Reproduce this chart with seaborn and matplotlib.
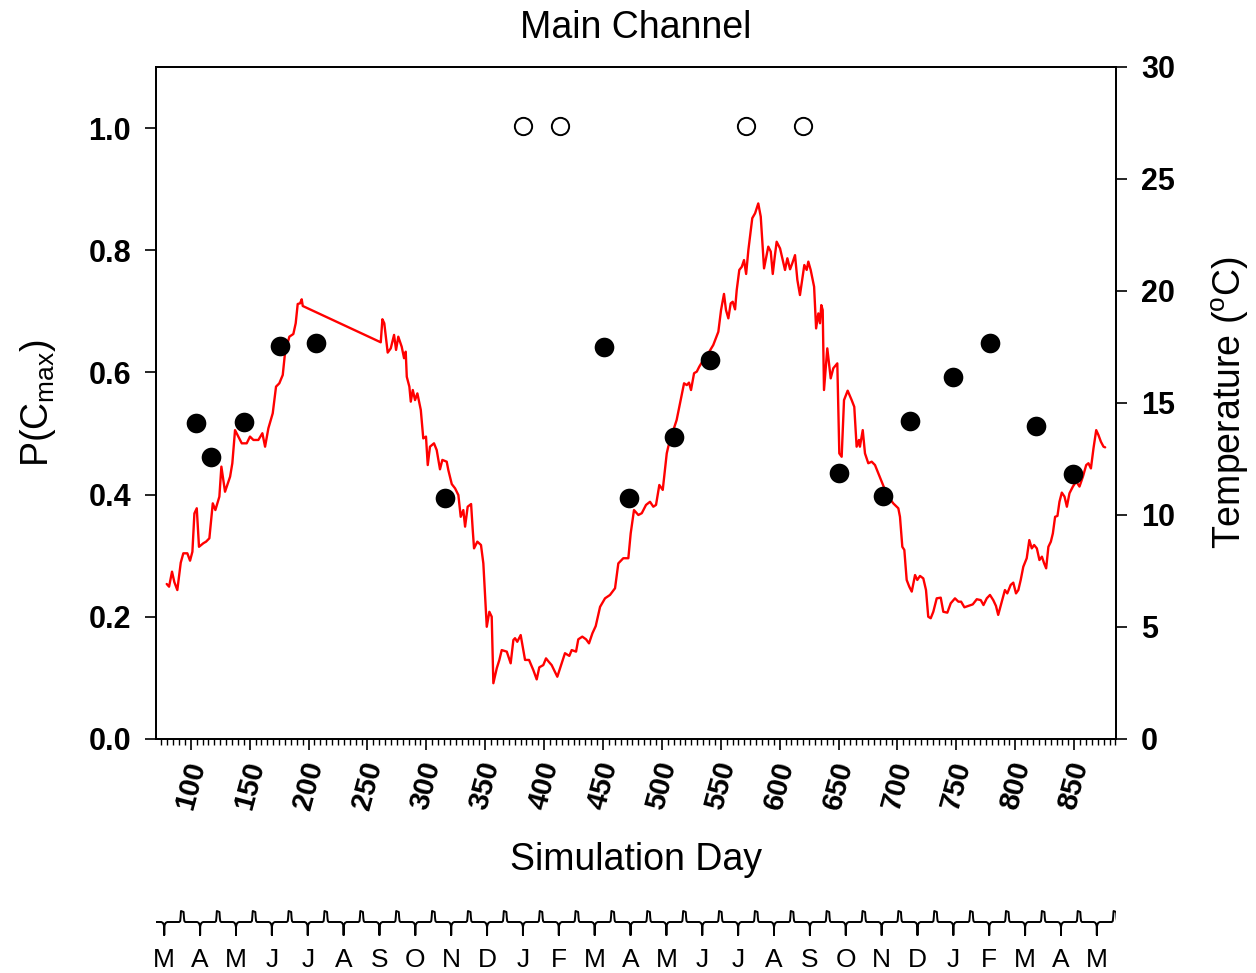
import numpy as np
import seaborn as sns
import matplotlib.pyplot as plt
from matplotlib.ticker import MultipleLocator

# --- data ---
pcmax_day = [104.2, 117.2, 145.2, 176.0, 206.1, 316.1, 451.1, 472.3, 510.0,
             541.1, 650.1, 687.4, 710.9, 747.4, 778.5, 817.8, 849.0]
pcmax = [0.518, 0.461, 0.519, 0.644, 0.648, 0.394, 0.641, 0.395, 0.494,
         0.621, 0.436, 0.397, 0.521, 0.593, 0.649, 0.513, 0.433]

open_day = [382.3, 413.5, 571.1, 620.0]
open_p = [1.003, 1.003, 1.003, 1.003]

temp_day = [
    79.6, 81.6, 84.1, 86.1, 88.6, 91.5, 93.7, 97.1, 99.4, 101.4,
    103.1, 105.1, 107.0, 110.7, 113.0, 115.8, 118.7, 120.9, 124.3, 126.0,
    129.1, 133.4, 135.3, 137.6, 140.4, 143.3, 147.5, 150.3, 153.2, 157.4,
    160.8, 163.1, 165.9, 169.6, 172.4, 175.2, 178.1, 180.0, 183.7, 187.1,
    189.1, 190.8, 192.8, 194.2, 195.1, 261.3, 262.7, 264.3, 267.2, 269.8,
    272.6, 274.3, 276.2, 279.1, 281.1, 282.5, 283.4, 285.6, 286.8, 288.5,
    290.4, 292.4, 295.3, 297.4, 299.7, 301.2, 303.1, 306.5, 308.8, 311.6,
    313.6, 317.3, 318.7, 321.6, 324.4, 327.2, 329.2, 331.4, 332.9, 335.1,
    338.0, 339.4, 340.5, 343.3, 346.4, 348.4, 351.3, 353.5, 355.5, 356.9,
    359.8, 362.0, 364.0, 368.3, 371.6, 373.9, 375.3, 377.2, 380.1, 383.8,
    387.2, 390.8, 393.7, 395.9, 399.3, 401.6, 403.9, 406.4, 411.2, 414.9,
    417.7, 421.4, 423.4, 427.1, 429.0, 432.4, 435.6, 438.1, 441.0, 443.8,
    447.5, 451.7, 455.9, 460.2, 463.0, 467.2, 471.5, 473.5, 476.3, 480.0,
    482.9, 486.5, 489.9, 492.7, 495.0, 497.8, 500.7, 504.1, 505.4, 509.7,
    512.5, 515.4, 518.8, 521.1, 523.0, 524.7, 527.3, 529.6, 531.7, 535.1,
    539.4, 543.6, 547.9, 550.2, 552.7, 554.4, 556.4, 558.4, 560.1, 562.1,
    563.5, 565.7, 567.8, 569.7, 571.5, 573.4, 576.7, 579.1, 581.8, 583.9,
    586.7, 588.4, 590.3, 592.4, 594.1, 595.8, 597.4, 600.3, 602.6, 604.5,
    606.5, 608.8, 610.7, 613.0, 615.0, 617.2, 619.5, 620.9, 622.9, 624.3,
    626.3, 629.2, 630.9, 632.8, 634.2, 635.3, 636.5, 637.6, 640.4, 643.3,
    645.5, 648.9, 650.6, 652.6, 654.6, 657.7, 661.1, 663.3, 665.3, 667.3,
    668.1, 670.5, 672.4, 675.2, 678.1, 680.9, 683.7, 686.6, 689.4, 692.2,
    696.4, 700.7, 702.1, 704.1, 705.8, 707.8, 710.0, 712.1, 714.9, 716.8,
    719.1, 721.9, 724.2, 726.1, 728.2, 730.4, 733.3, 736.7, 738.9, 742.3,
    745.2, 748.8, 751.7, 754.0, 756.8, 760.2, 763.9, 767.3, 770.7, 773.0,
    775.8, 778.5, 781.3, 783.6, 785.5, 788.5, 791.2, 793.2, 796.1, 798.3,
    800.6, 802.6, 804.6, 806.8, 809.7, 811.9, 814.0, 816.0, 818.3, 820.5,
    822.6, 824.5, 826.2, 828.1, 830.2, 831.9, 833.8, 835.8, 837.5, 839.5,
    841.8, 843.8, 846.0, 848.9, 851.7, 854.5, 857.4, 860.2, 862.1, 864.2,
    866.4, 868.7, 870.6, 872.7, 874.9, 876.3]
temp_c = [
    6.92, 6.80, 7.47, 7.00, 6.65, 7.87, 8.29, 8.29, 7.96, 8.36,
    10.07, 10.30, 8.58, 8.74, 8.81, 8.96, 10.52, 10.22, 10.82, 12.16,
    11.04, 11.71, 12.31, 13.79, 13.50, 13.20, 13.20, 13.50, 13.35, 13.35,
    13.65, 13.05, 13.87, 14.54, 15.73, 15.88, 16.25, 17.22, 17.96, 18.08,
    18.56, 19.42, 19.45, 19.63, 19.33, 17.71, 18.74, 18.56, 17.25, 17.44,
    18.04, 17.37, 17.96, 17.51, 17.00, 17.29, 16.17, 15.73, 15.06, 15.58,
    15.13, 15.43, 14.69, 13.42, 13.50, 12.23, 13.05, 13.20, 12.90, 12.04,
    12.46, 12.38, 12.00, 11.38, 11.19, 10.89, 9.92, 10.22, 9.48, 10.37,
    10.49, 9.33, 8.51, 8.81, 8.66, 7.84, 5.01, 5.68, 5.46, 2.49,
    3.16, 3.53, 3.97, 3.90, 3.38, 4.42, 4.50, 4.34, 4.64, 3.53,
    3.53, 3.08, 2.66, 3.20, 3.30, 3.60, 3.45, 3.30, 2.78, 3.38,
    3.83, 3.71, 3.97, 3.90, 4.45, 4.57, 4.45, 4.27, 4.72, 5.04,
    5.90, 6.28, 6.43, 6.73, 7.84, 8.07, 8.07, 9.18, 10.22, 10.00,
    10.08, 10.45, 10.59, 10.37, 10.45, 11.34, 11.12, 12.75, 13.05, 13.79,
    14.24, 14.99, 15.88, 15.80, 15.91, 15.58, 16.33, 16.40, 16.62, 16.92,
    17.22, 17.59, 18.18, 19.15, 19.87, 19.15, 18.78, 19.45, 19.52, 19.18,
    20.04, 20.94, 21.08, 21.38, 20.76, 21.83, 23.25, 23.47, 23.91, 23.32,
    21.01, 21.46, 21.98, 21.76, 20.76, 21.53, 22.20, 21.90, 21.38, 20.94,
    21.46, 20.97, 21.24, 21.60, 20.49, 19.82, 20.64, 21.16, 20.94, 21.31,
    20.94, 20.19, 18.33, 19.00, 18.56, 19.37, 19.15, 15.58, 17.44, 16.10,
    16.55, 16.77, 12.75, 12.60, 15.13, 15.55, 15.13, 14.83, 13.05, 13.35,
    13.05, 13.79, 12.75, 12.31, 12.38, 12.23, 11.86, 11.49, 11.12, 10.82,
    10.52, 10.30, 9.92, 8.58, 8.44, 7.10, 6.80, 6.58, 7.32, 7.10,
    7.28, 7.17, 6.65, 5.46, 5.39, 5.68, 6.28, 6.31, 5.68, 5.64,
    6.06, 6.28, 6.13, 6.13, 5.88, 5.94, 6.01, 6.24, 6.20, 5.98,
    6.28, 6.43, 6.20, 5.94, 5.54, 6.13, 6.65, 6.50, 6.88, 6.98,
    6.50, 6.65, 7.10, 7.69, 8.07, 8.88, 8.51, 8.66, 8.51, 7.99,
    8.14, 7.84, 7.62, 8.58, 8.81, 9.18, 9.92, 9.96, 10.59, 11.00,
    10.82, 10.37, 10.97, 11.27, 11.49, 11.27, 11.71, 12.23, 12.31, 12.08,
    12.98, 13.79, 13.57, 13.27, 13.05, 13.02]

day_ticks = list(range(100, 851, 50))
p_ticks = [0.0, 0.2, 0.4, 0.6, 0.8, 1.0]
temp_ticks = [0, 5, 10, 15, 20, 25, 30]

months = ['M', 'A', 'M', 'J', 'J', 'A', 'S', 'O', 'N', 'D', 'J', 'F', 'M', 'A',
          'M', 'J', 'J', 'A', 'S', 'O', 'N', 'D', 'J', 'F', 'M', 'A', 'M']
first_month_mid = 79.0   # simulation day of the first (March) label
month_len = 30.44

XMIN, XMAX = 70.5, 885.5

sns.set_theme(style='ticks')
plt.rcParams['font.family'] = ['Liberation Sans', 'DejaVu Sans']
plt.rcParams['mathtext.default'] = 'regular'
plt.rcParams['axes.linewidth'] = 1.3
plt.rcParams['axes.edgecolor'] = 'black'
plt.rcParams['text.color'] = 'black'
plt.rcParams['axes.labelcolor'] = 'black'

fig = plt.figure(figsize=(12.56, 9.73), dpi=100)
ax = fig.add_axes([156 / 1256, 1 - 739 / 973, 960 / 1256, 672 / 973])
ax2 = ax.twinx()

# temperature on the right axis
sns.lineplot(x=temp_day, y=temp_c, ax=ax2, color='red', linewidth=1.7,
             estimator=None, sort=False)
ax2.set_ylim(0, 30)
ax2.set_yticks(temp_ticks, [str(t) for t in temp_ticks], fontsize=22,
               fontweight='bold')
ax2.tick_params(axis='y', direction='out', length=8, width=1.2, pad=10,
                colors='black')
ax2.set_ylabel('Temperature ($^{o}$C)', fontsize=27, labelpad=25)

# P(Cmax) on the left axis, drawn over the temperature line
ax.set_zorder(ax2.get_zorder() + 1)
ax.patch.set_visible(False)
sns.scatterplot(x=pcmax_day, y=pcmax, ax=ax, color='black', s=200,
                edgecolor='black', linewidth=0, zorder=3)
sns.scatterplot(x=open_day, y=open_p, ax=ax, color='white', s=155,
                edgecolor='black', linewidth=1.4, zorder=3)

ax.set_xlim(XMIN, XMAX)
ax.set_ylim(0, 1.1)
ax.set_yticks(p_ticks, [f'{v:.1f}' for v in p_ticks], fontsize=22,
              fontweight='bold')
ax.set_xticks(day_ticks, [str(d) for d in day_ticks], fontsize=21,
              fontweight='bold', rotation=75, ha='center', va='top')
ax.xaxis.set_minor_locator(MultipleLocator(5))
ax.tick_params(axis='both', which='major', direction='out', length=8,
               width=1.2, colors='black')
ax.tick_params(axis='x', which='minor', direction='out', length=4,
               width=1.0, colors='black', bottom=True)
ax.tick_params(axis='y', pad=10)
ax.tick_params(axis='x', pad=6)
ax.set_ylabel('P(C$_{max}$)', fontsize=27, labelpad=22)
ax.set_xlabel('Simulation Day', fontsize=27, labelpad=21)
ax.set_title('Main Channel', fontsize=27, pad=21)

# month strip beneath the chart
ax3 = fig.add_axes([156 / 1256, 1 - 940 / 973, 960 / 1256, 35 / 973])
px = (XMAX - XMIN) / 960.0
mids = [first_month_mid + k * month_len for k in range(len(months))]
wx, wy = [XMIN - 5], [0.0]
for k in range(-1, len(months) + 1):
    c = first_month_mid + k * month_len
    for dx, dy in zip([-3, -1.5, -0.6, 0, 0, 0, 0.6, 1.5, 3],
                      [0, -0.08, -0.25, -0.5, -1.3, -0.5, -0.25, -0.08, 0]):
        wx.append(c + dx * px)
        wy.append(dy)
    b = c + month_len / 2
    for dx, dy in zip([-3, -2, -1.6, -1.2, 1.4, 1.8, 2.2, 3],
                      [0, 0.1, 0.5, 1.1, 1.0, 0.4, 0.1, 0]):
        wx.append(b + dx * px)
        wy.append(dy)
sns.lineplot(x=wx, y=wy, ax=ax3, color='black', linewidth=1.4,
             estimator=None, sort=False)
ax3.set_xlim(XMIN + 1.5, XMAX + 1.2)
ax3.set_ylim(-1.8, 1.7)
ax3.set_xticks(mids, months, fontsize=19,
               family=['Liberation Sans Narrow', 'Liberation Sans'])
ax3.set_yticks([])
ax3.tick_params(axis='x', length=0, pad=6, colors='black')
for s in ax3.spines.values():
    s.set_visible(False)
ax3.patch.set_visible(False)

fig.savefig('out.png', dpi=100)
